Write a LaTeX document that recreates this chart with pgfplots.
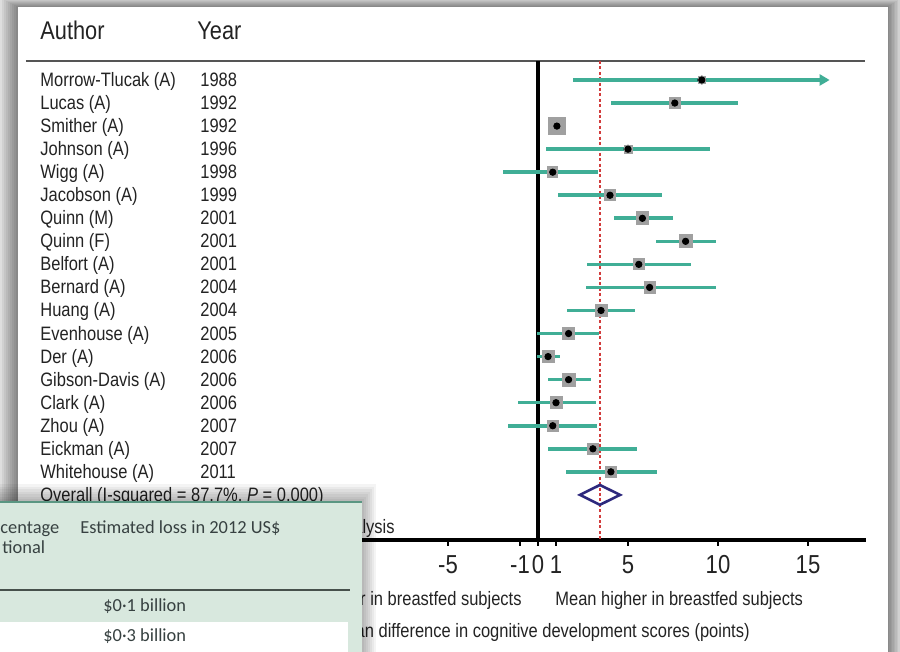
\documentclass[border=0pt]{standalone}
\usepackage{fontspec}
\setmainfont{Liberation Sans}[FakeStretch=0.85]
\newfontfamily\lancet{Carlito}
\usepackage{pgfplots}
\pgfplotsset{compat=1.18}
\usepackage{pgfplotstable}
\usetikzlibrary{arrows.meta}

\definecolor{bgc}{RGB}{222,222,222}
\definecolor{textc}{RGB}{35,35,35}
\definecolor{rulec}{RGB}{85,85,85}
\definecolor{ci}{RGB}{64,174,150}
\definecolor{boxgray}{RGB}{160,160,160}
\definecolor{diac}{RGB}{45,40,125}
\definecolor{redl}{RGB}{210,60,60}
\definecolor{ovc}{RGB}{216,232,222}
\definecolor{ovline}{RGB}{90,150,130}
\definecolor{ovrule}{RGB}{70,80,75}
\definecolor{ovtext}{RGB}{55,65,65}

\newcommand\bodyfont{\fontsize{9.7bp}{11bp}\selectfont}
\newcommand\headfont{\fontsize{12.8bp}{14bp}\selectfont}
\newcommand\tickfont{\fontsize{13bp}{15bp}\selectfont}
\newcommand\ovfont{\lancet\fontsize{9.2bp}{11bp}\selectfont}

\pgfplotstableread{
row est lo hi box
1 9.1 1.94 9.1 1.8
2 7.6 4.06 11.1 2.8
3 1.05 0.7 1.4 4.3
4 5.0 0.45 9.56 2.0
5 0.82 -1.93 3.33 2.6
6 4.0 1.1 6.9 2.8
7 5.8 4.2 7.5 3.2
8 8.2 6.55 9.9 3.2
9 5.6 2.7 8.5 2.8
10 6.2 2.67 9.9 2.8
11 3.5 1.6 5.4 3.0
12 1.7 -0.05 3.4 3.0
13 0.56 -0.05 1.2 3.0
14 1.7 0.56 2.95 3.2
15 1.0 -1.1 3.2 3.0
16 0.82 -1.65 3.3 2.8
17 3.05 0.56 5.5 2.8
18 4.05 1.55 6.6 2.8
}\data

\begin{document}
\begin{tikzpicture}
% ---------- background frame (pixel coordinates) ----------
\begin{scope}[x=0.5bp,y=-0.5bp,shift={(0,326bp)}]
  \fill[bgc] (0,0) rectangle (900,652);
  \foreach \k in {1,...,8} {\fill[black,opacity=0.055] ({18-2*\k},{7-\k}) rectangle ({888+1.5*\k},652);}
  \fill[white] (18,7) rectangle (888,652);
  \draw[rulec, line width=1.2bp] (26,61) -- (865,61);
  \node[anchor=base west, inner sep=0, font=\headfont, text=textc] at (40,40) {Author};
  \node[anchor=base west, inner sep=0, font=\headfont, text=textc] at (197,40) {Year};
\end{scope}

% ---------- forest plot ----------
\begin{axis}[
  at={(13bp,56bp)}, anchor=south west,
  scale only axis, width=420bp, height=239.5bp,
  xmin=-28.444, xmax=18.222, ymin=-20.957, ymax=-0.1757,
  axis x line=bottom, axis y line=none,
  x axis line style={line width=2bp, -, black},
  xtick={-5,-1,0,1,5,10,15},
  xticklabels={-5,-1,0,1,5,10,15},
  tick align=outside, major tick length=3bp,
  xtick style={line width=1.4bp, black},
  xticklabel style={font=\tickfont, text=textc, inner sep=1bp, yshift=-3.5bp},
  clip=false,
]
  % overall effect (dashed) and null line
  \addplot[redl, line width=0.6bp, dash pattern=on 1.5bp off 1.2bp] coordinates {(3.44,-0.1757) (3.44,-20.957)};
  \addplot[black, line width=2bp] coordinates {(0,-0.1757) (0,-20.957)};
  % confidence intervals
  \addplot[only marks, mark=none, error bars/.cd, x dir=both, x explicit,
    error bar style={draw=ci, line width=1.8bp}, error mark=none]
    table[x=est, y expr=-\thisrow{row}, x error plus expr=\thisrow{hi}-\thisrow{est}, x error minus expr=\thisrow{est}-\thisrow{lo}] {\data};
  \addplot[ci, line width=1.8bp, -{Triangle[length=5bp,width=5.5bp]}] coordinates {(9.1,-1) (16.2,-1)};
  % weight boxes
  \addplot[scatter, only marks, mark=square*,
    mark options={draw=boxgray, fill=boxgray, line width=0pt},
    scatter/use mapped color={draw=boxgray, fill=boxgray},
    visualization depends on={\thisrow{box} \as \bx},
    scatter/@pre marker code/.append style={/tikz/mark size=\bx bp}]
    table[x=est, y expr=-\thisrow{row}] {\data};
  % point estimates
  \addplot[only marks, mark=*, mark size=1.6bp, black] table[x=est, y expr=-\thisrow{row}] {\data};
  % pooled diamond
  \addplot[draw=diac, line width=1.3bp, line join=miter] coordinates {(2.33,-19) (3.44,-18.57) (4.56,-19) (3.44,-19.43)} -- cycle;
\end{axis}

% ---------- text and overlay (pixel coordinates) ----------
\begin{scope}[x=0.5bp,y=-0.5bp,shift={(0,326bp)}]
  \foreach \n/\yr [count=\i] in {Morrow-Tlucak (A)/1988, Lucas (A)/1992, Smither (A)/1992, Johnson (A)/1996, Wigg (A)/1998, Jacobson (A)/1999, Quinn (M)/2001, Quinn (F)/2001, Belfort (A)/2001, Bernard (A)/2004, Huang (A)/2004, Evenhouse (A)/2005, Der (A)/2006, Gibson-Davis (A)/2006, Clark (A)/2006, Zhou (A)/2007, Eickman (A)/2007, Whitehouse (A)/2011} {
    \node[anchor=base west, inner sep=0, font=\bodyfont, text=textc] at (40,{56.95+23.05*\i+6.5}) {\n};
    \node[anchor=base west, inner sep=0, font=\bodyfont, text=textc] at (200,{56.95+23.05*\i+6.5}) {\yr};
  }
  \node[anchor=base west, inner sep=0, font=\bodyfont, text=textc] at (40,501.5) {Overall (I-squared = 87.7\%, \textit{P} = 0.000)};
  \node[anchor=base east, inner sep=0, font=\bodyfont, text=textc] at (395,534) {analysis};
  \node[anchor=base east, inner sep=0, font=\bodyfont, text=textc] at (522,606) {Mean lower in breastfed subjects};
  \node[anchor=base west, inner sep=0, font=\bodyfont, text=textc] at (555,606) {Mean higher in breastfed subjects};
  \node[anchor=base east, inner sep=0, font=\bodyfont, text=textc] at (750,638) {Mean difference in cognitive development scores (points)};
  % overlay table
  \foreach \k in {1,...,7} {\fill[black,opacity=0.045] (0,{502-2.5*\k}) rectangle ({362+2*\k},652);}
  \fill[ovc] (0,502) rectangle (362,652);
  \draw[ovline, line width=1.1bp] (0,502) -- (362,502);
  \fill[white] (0,622) rectangle (348,652);
  \draw[ovrule, line width=0.7bp] (0,590) -- (350,590);
  \node[anchor=base west, inner sep=0, font=\ovfont, text=ovtext] at (0,534) {centage};
  \node[anchor=base west, inner sep=0, font=\ovfont, text=ovtext] at (2,554) {tional};
  \node[anchor=base west, inner sep=0, font=\ovfont, text=ovtext] at (80,534) {Estimated loss in 2012 US\$};
  \node[anchor=base west, inner sep=0, font=\ovfont, text=ovtext] at (103,612) {\$0·1 billion};
  \node[anchor=base west, inner sep=0, font=\ovfont, text=ovtext] at (103,642) {\$0·3 billion};
\end{scope}
\pgfresetboundingbox
\path[use as bounding box] (0,0) rectangle (450bp,326bp);
\end{tikzpicture}
\end{document}
